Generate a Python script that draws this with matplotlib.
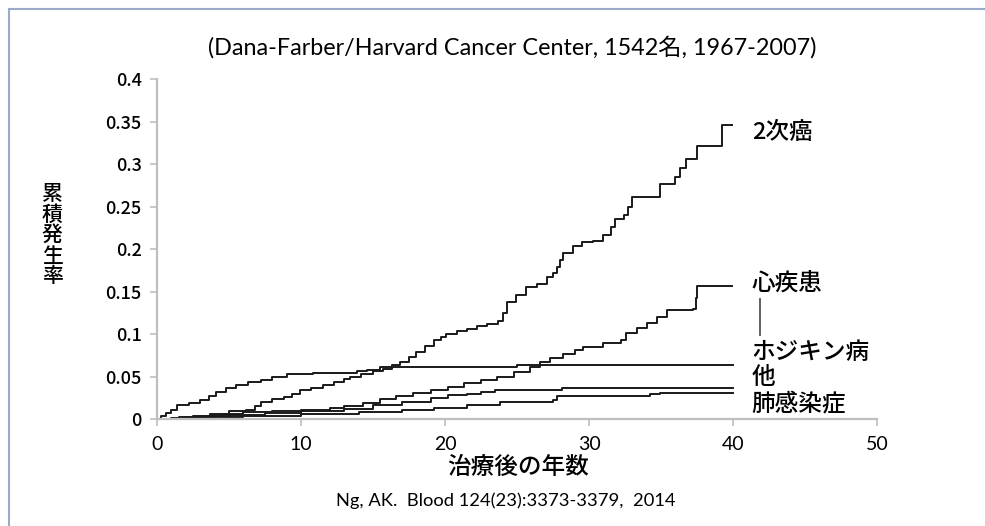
import numpy as np
import matplotlib.pyplot as plt
from matplotlib.lines import Line2D

plt.rcParams['font.family'] = ['Lato', 'Noto Sans CJK JP', 'DejaVu Sans']

# cumulative incidence, step curves (years after treatment, value)
cancer_t = [0, 1, 2, 3.7, 5, 6.2, 6.8, 7.2, 8.0, 8.8, 9.4, 9.9, 10.7, 11.5, 12.3, 13.0,
            13.4, 14.2, 15.0, 15.7, 16.3, 16.9, 17.5, 18.0, 18.6, 19.2, 19.7, 20.1,
            20.8, 21.5, 22.2, 22.9, 23.7, 24.0, 24.3, 24.9, 25.6, 26.4, 27.1, 27.5,
            27.8, 28.0, 28.2, 28.9, 29.5, 30.3, 31.0, 31.5, 31.8, 32.4, 32.7, 33.0,
            34.9, 36.0, 36.3, 36.7, 37.5, 39.2, 39.9]
cancer_v = [0, 0.001, 0.002, 0.006, 0.009, 0.011, 0.015, 0.020, 0.023, 0.026, 0.030,
            0.034, 0.037, 0.040, 0.044, 0.047, 0.050, 0.053, 0.056, 0.059, 0.063,
            0.067, 0.073, 0.079, 0.086, 0.093, 0.097, 0.100, 0.103, 0.106, 0.109,
            0.112, 0.115, 0.125, 0.138, 0.146, 0.155, 0.159, 0.167, 0.172, 0.179,
            0.187, 0.195, 0.203, 0.208, 0.210, 0.216, 0.226, 0.235, 0.240, 0.250,
            0.261, 0.276, 0.285, 0.295, 0.306, 0.321, 0.346, 0.346]

heart_t = [0, 1.5, 3, 4.5, 6, 8, 10, 12, 13, 14.3, 15.5, 16.6, 17.8, 19.0, 20.2, 21.3,
           22.5, 23.6, 24.8, 25.9, 26.6, 27.3, 28.2, 29.0, 29.6, 31.0, 32.2, 32.6,
           33.3, 34.0, 34.7, 35.4, 37.2, 37.4, 37.5, 39.9]
heart_v = [0, 0.002, 0.004, 0.006, 0.008, 0.009, 0.011, 0.0125, 0.015, 0.019, 0.023,
           0.027, 0.031, 0.034, 0.038, 0.042, 0.046, 0.050, 0.055, 0.061, 0.067,
           0.072, 0.077, 0.081, 0.085, 0.089, 0.093, 0.101, 0.107, 0.113, 0.120,
           0.128, 0.130, 0.142, 0.156, 0.156]

hodgkin_t = [0, 0.3, 0.6, 1.0, 1.4, 2.2, 3.0, 3.6, 4.1, 4.8, 5.5, 6.3, 7.2, 8.0, 9.0,
             10.8, 13.9, 14.6, 15.5, 25.0, 40.0]
hodgkin_v = [0, 0.003, 0.007, 0.011, 0.016, 0.019, 0.022, 0.027, 0.032, 0.036, 0.040,
             0.043, 0.046, 0.049, 0.053, 0.0545, 0.056, 0.058, 0.0615, 0.0635, 0.0635]

other_t = [0, 1.2, 2.5, 5, 7.5, 10, 13, 15, 17, 19, 20.2, 21.5, 22.5, 23.5, 28.1, 40.0]
other_v = [0, 0.0015, 0.003, 0.005, 0.007, 0.009, 0.012, 0.016, 0.020, 0.025, 0.028,
           0.030, 0.032, 0.034, 0.036, 0.036]

lung_t = [0, 1.5, 3, 6, 10, 14, 17, 19.2, 21.5, 23.8, 27.5, 27.8, 34.1, 34.2, 34.9, 40.0]
lung_v = [0, 0.001, 0.002, 0.004, 0.006, 0.008, 0.011, 0.013, 0.016, 0.020, 0.022,
          0.027, 0.027, 0.030, 0.031, 0.031]

series = [(cancer_t, cancer_v), (heart_t, heart_v), (hodgkin_t, hodgkin_v),
          (other_t, other_v), (lung_t, lung_v)]
labels = ['2次癌', '心疾患', 'ホジキン病', '他', '肺感染症']
label_y = [0.337, 0.160, 0.078, 0.049, 0.018]

fig = plt.figure(figsize=(9.85, 5.26), dpi=100)
ax = fig.add_axes([0.1594, 0.2034, 0.731, 0.6464])

for t, v in series:
    ax.step(t, v, where='post', color='#1a1a1a', lw=1.4)

ax.set_xlim(0, 50)
ax.set_ylim(0, 0.4)
ax.set_xticks(np.arange(0, 51, 10))
ax.set_yticks(np.arange(0, 0.41, 0.05))
ax.set_yticklabels(['0', '0.05', '0.1', '0.15', '0.2', '0.25', '0.3', '0.35', '0.4'],
                   family=['Noto Sans CJK JP'], fontsize=13, weight='medium')
for lab in ax.get_xticklabels():
    lab.set_fontsize(14)

for s in ['top', 'right']:
    ax.spines[s].set_visible(False)
for s in ['left', 'bottom']:
    ax.spines[s].set_color('#bfbfbf')
    ax.spines[s].set_linewidth(1.6)
ax.tick_params(axis='both', color='#bfbfbf', width=1.2, length=5)
ax.tick_params(axis='y', pad=6)
ax.tick_params(axis='x', pad=7)

for name, y in zip(labels, label_y):
    ax.text(41.3, y, name, fontsize=17, va='center', ha='left',
            family=['Noto Sans CJK JP'], weight='medium')
ax.plot([41.9, 41.9], [0.099, 0.141], color='#555555', lw=1.3, clip_on=False)

fig.text(0.52, 0.91, '(Dana-Farber/Harvard Cancer Center, 1542名, 1967-2007)',
         fontsize=16.8, ha='center', va='center')
fig.text(0.053, 0.553, '累\n積\n発\n生\n率', fontsize=15, ha='center', va='center',
         family=['Noto Sans CJK JP'], weight='medium', linespacing=0.92)
fig.text(0.526, 0.112, '治療後の年数', fontsize=17, ha='center', va='center',
         family=['Noto Sans CJK JP'], weight='medium')
fig.text(0.513, 0.048, 'Ng, AK.  Blood 124(23):3373-3379,  2014', fontsize=13.2,
         ha='center', va='center')

# outer frame of the slide
fig.add_artist(Line2D([9 / 985, 9 / 985], [0, 1 - 9 / 526], color='#9aaac8', lw=1.5))
fig.add_artist(Line2D([9 / 985, 1], [1 - 9 / 526, 1 - 9 / 526], color='#9aaac8', lw=1.5))

fig.savefig('out.png', dpi=100)
